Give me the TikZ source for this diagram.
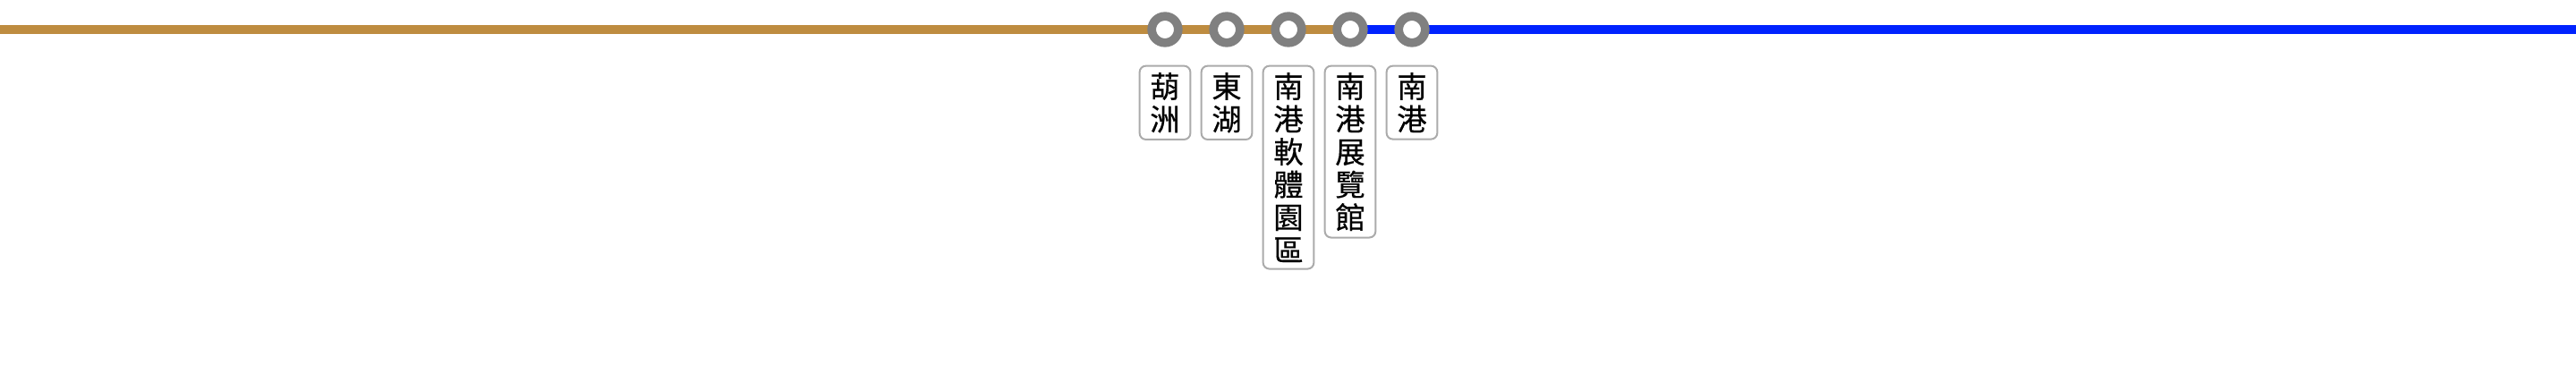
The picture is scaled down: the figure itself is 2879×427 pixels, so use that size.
\documentclass[tikz,border=0pt]{standalone}
\usepackage{fontspec}
\newfontfamily\cjk[FakeBold=0.4]{Noto Sans CJK TC}
\usetikzlibrary{positioning, backgrounds}
\definecolor{wenhu}{RGB}{190,140,64}
\definecolor{bannan}{RGB}{0,34,255}

\begin{document}
\begin{tikzpicture}[x=0.1mm, y=-0.1mm,
            station/.style={circle, draw=gray, fill=white, line width=0.97mm, minimum size=2.96mm, inner sep=0pt},
            name box/.style={draw=black!33, line width=0.2mm, rounded corners=0.7mm, fill=white,
                font=\cjk\fontsize{9.5}{10.4}\selectfont, align=center, minimum width=5.67mm,
                inner xsep=0pt, inner ysep=0.75mm},
            track/.style={line width=0.93mm}]

            \useasboundingbox (0,0) rectangle (2879,427);

            % Line ends
            \coordinate (west) at (0,33);
            \coordinate (east) at (2879,33);

            % Stations
            \node[station] (hz) at (1302,33) {};
            \node[station] (dh) at (1371,33) {};
            \node[station] (ns) at (1440,33) {};
            \node[station] (nx) at (1509,33) {};
            \node[station] (ng) at (1578,33) {};

            % Tracks behind the stations
            \begin{scope}[on background layer]
                \draw[track, wenhu] (west) -- (nx.center);
                \draw[track, bannan] (nx.center) -- (east);
            \end{scope}

            % Station names
            \node[name box, below=2mm of hz] (hz-name) {葫\\洲};
            \node[name box, below=2mm of dh] (dh-name) {東\\湖};
            \node[name box, below=2mm of ns] (ns-name) {南\\港\\軟\\體\\園\\區};
            \node[name box, below=2mm of nx] (nx-name) {南\\港\\展\\覽\\館};
            \node[name box, below=2mm of ng] (ng-name) {南\\港};
        \end{tikzpicture}
\end{document}
